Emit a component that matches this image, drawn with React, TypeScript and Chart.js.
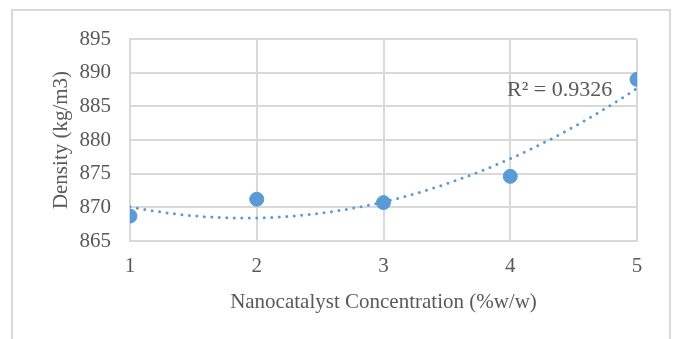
import React, { useEffect, useRef } from "react";
import { Chart, registerables } from "chart.js";

Chart.register(...registerables);

// ---- Data ----
const concentrations = [1, 2, 3, 4, 5];
const densities = [868.7, 871.2, 870.7, 874.6, 889.0];
const yMin = 865;
const yMax = 895;
const yStep = 5;
const xMin = 1;
const xMax = 5;
const xAxisTitle = "Nanocatalyst Concentration (%w/w)";
const yAxisTitle = "Density (kg/m3)";
const rSquaredText = "R\u00B2 = 0.9326";
const rSquaredAnchor = { x: 4.39, y: 887.4 };
const trendOrder = 2;
const trendSamples = 60;

// ---- Polynomial least-squares trendline (as in a spreadsheet's trendline) ----
function polyFit(xs: number[], ys: number[], order: number): number[] {
  const n = order + 1;
  const A: number[][] = [];
  for (let i = 0; i < n; i++) {
    A.push(new Array(n + 1).fill(0));
    for (let j = 0; j < n; j++) {
      let s = 0;
      for (const x of xs) s += Math.pow(x, i + j);
      A[i][j] = s;
    }
    let t = 0;
    xs.forEach((x, k) => (t += Math.pow(x, i) * ys[k]));
    A[i][n] = t;
  }
  for (let c = 0; c < n; c++) {
    let p = c;
    for (let r = c + 1; r < n; r++) if (Math.abs(A[r][c]) > Math.abs(A[p][c])) p = r;
    [A[c], A[p]] = [A[p], A[c]];
    for (let r = 0; r < n; r++) {
      if (r === c) continue;
      const f = A[r][c] / A[c][c];
      for (let k = c; k <= n; k++) A[r][k] -= f * A[c][k];
    }
  }
  return A.map((row, i) => row[n] / A[i][i]);
}

const coeffs = polyFit(concentrations, densities, trendOrder);
const trendPoints = Array.from({ length: trendSamples + 1 }, (_, i) => {
  const x = xMin + ((xMax - xMin) * i) / trendSamples;
  const y = coeffs.reduce((s, c, k) => s + c * Math.pow(x, k), 0);
  return { x, y };
});

const textColor = "#595959";
const gridColor = "#d9d9d9";
const pointColor = "#5B9BD5";
const fontFamily = "'Liberation Serif', 'Times New Roman', serif";
const fontSize = 21;

const labelPlugin = {
  id: "rSquaredLabel",
  afterDatasetsDraw(chart: any) {
    const { ctx, scales } = chart;
    const px = scales.x.getPixelForValue(rSquaredAnchor.x);
    const py = scales.y.getPixelForValue(rSquaredAnchor.y);
    ctx.save();
    ctx.font = `22px ${fontFamily}`;
    ctx.fillStyle = textColor;
    ctx.textAlign = "center";
    ctx.textBaseline = "middle";
    ctx.fillText(rSquaredText, px, py);
    ctx.restore();
  },
};

export default function App() {
  const canvasRef = useRef<HTMLCanvasElement>(null);

  useEffect(() => {
    if (!canvasRef.current) return;
    const chart = new Chart(canvasRef.current, {
      type: "scatter",
      data: {
        datasets: [
          {
            label: "Density",
            data: concentrations.map((x, i) => ({ x, y: densities[i] })),
            backgroundColor: pointColor,
            borderColor: pointColor,
            pointRadius: 7,
            pointHoverRadius: 7,
            order: 0,
          },
          {
            type: "line",
            label: "Trend",
            data: trendPoints,
            borderColor: pointColor,
            borderWidth: 3,
            borderDash: [0, 7.5],
            borderCapStyle: "round",
            pointRadius: 0,
            fill: false,
            tension: 0,
            order: 1,
          } as any,
        ],
      },
      options: {
        animation: false,
        responsive: false,
        events: [],
        layout: { padding: { left: 40, top: 39, right: 39, bottom: 18 } },
        plugins: { legend: { display: false }, tooltip: { enabled: false } },
        scales: {
          x: {
            type: "linear",
            min: xMin,
            max: xMax,
            ticks: {
              stepSize: 1,
              color: textColor,
              padding: 13,
              font: { family: fontFamily, size: fontSize },
            },
            grid: { color: gridColor, lineWidth: 2, drawTicks: false },
            border: { color: gridColor, width: 2 },
            title: {
              display: true,
              text: xAxisTitle,
              color: textColor,
              font: { family: fontFamily, size: fontSize },
              padding: { top: 0, bottom: 6 },
            },
            afterFit(scale: any) {
              scale.height = 80;
            },
          },
          y: {
            type: "linear",
            min: yMin,
            max: yMax,
            ticks: {
              stepSize: yStep,
              color: textColor,
              padding: 19,
              font: { family: fontFamily, size: fontSize },
            },
            grid: { color: gridColor, lineWidth: 2, drawTicks: false },
            border: { color: gridColor, width: 2 },
            title: {
              display: true,
              text: yAxisTitle,
              color: textColor,
              font: { family: fontFamily, size: fontSize },
              padding: { top: 9, bottom: 0 },
            },
            afterFit(scale: any) {
              scale.width = 90;
            },
          },
        },
      },
      plugins: [labelPlugin],
    });
    return () => chart.destroy();
  }, []);

  return (
    <div
      style={{
        position: "fixed",
        left: 0,
        top: 0,
        width: 676,
        height: 339,
        overflow: "hidden",
        background: "#ffffff",
      }}
    >
      <div
        style={{
          position: "absolute",
          left: 11,
          top: 9,
          width: 660,
          height: 360,
          border: `2px solid ${gridColor}`,
          boxSizing: "border-box",
        }}
      />
      <canvas
        ref={canvasRef}
        width={676}
        height={339}
        style={{ position: "absolute", left: 0, top: 0 }}
      />
    </div>
  );
}
